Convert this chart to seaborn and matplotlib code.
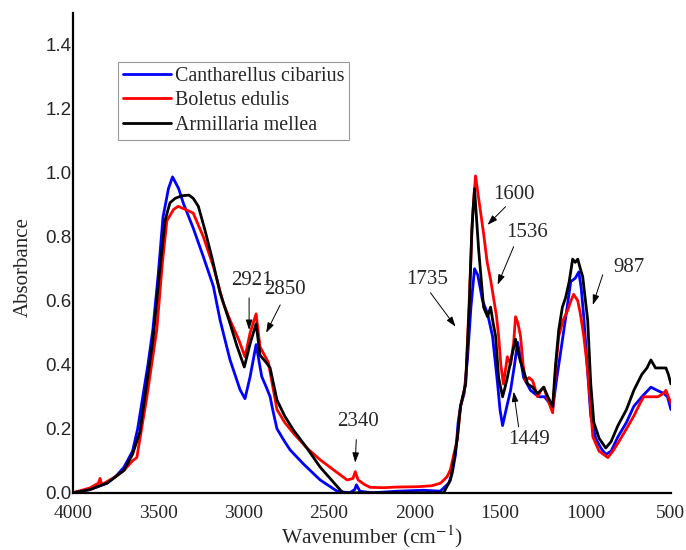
import numpy as np
import pandas as pd
import seaborn as sns
import matplotlib.pyplot as plt

# spectra (wavenumber, absorbance)
blue_w = [4000, 3900, 3850, 3800, 3750, 3700, 3650, 3620, 3590, 3560, 3531, 3500, 3472, 3440, 3416,
          3380, 3353, 3295, 3236, 3177, 3138, 3080, 3021, 2992, 2962, 2927, 2894, 2865, 2845,
          2830, 2805, 2760, 2728, 2650, 2552, 2453, 2380, 2350, 2340, 2320, 2250, 2100, 1950, 1850,
          1800, 1780, 1760, 1745, 1731, 1710, 1690, 1670, 1649, 1630, 1602, 1573, 1544, 1514, 1500,
          1485, 1460, 1438, 1415, 1397, 1380, 1362, 1321, 1274, 1240, 1210, 1192, 1170, 1145, 1115,
          1086, 1060, 1039, 1025, 1010, 990, 969, 940, 910, 881, 850, 810, 760, 717, 670, 617, 580,
          541, 520, 500]
blue_a = [0.0, 0.01, 0.02, 0.03, 0.05, 0.08, 0.13, 0.2, 0.30, 0.40, 0.51, 0.68, 0.86, 0.95, 0.987,
          0.95, 0.905, 0.827, 0.738, 0.645, 0.54, 0.416, 0.322, 0.294, 0.363, 0.463, 0.363, 0.327, 0.30,
          0.26, 0.20, 0.16, 0.134, 0.09, 0.04, 0.005, 0.0, 0.01, 0.025, 0.005, 0.0, 0.005, 0.008, 0.005,
          0.03, 0.06, 0.12, 0.22, 0.27, 0.31, 0.42, 0.58, 0.70, 0.68, 0.60, 0.56, 0.49, 0.34, 0.26,
          0.21, 0.27, 0.32, 0.40, 0.47, 0.42, 0.36, 0.32, 0.30, 0.30, 0.28, 0.26, 0.35, 0.44, 0.55,
          0.66, 0.67, 0.69, 0.64, 0.55, 0.40, 0.24, 0.17, 0.14, 0.12, 0.13, 0.175, 0.22, 0.27, 0.30,
          0.33, 0.32, 0.31, 0.30, 0.26]

red_w = [4000, 3900, 3850, 3840, 3830, 3800, 3750, 3700, 3650, 3625, 3600, 3566, 3508, 3475, 3449,
         3410, 3383, 3340, 3295, 3236, 3177, 3119, 3080, 3030, 2992, 2962, 2927, 2904, 2855,
         2805, 2760, 2710, 2630, 2552, 2470, 2394, 2360, 2347, 2330, 2317, 2290, 2259, 2182, 2100,
         1983, 1900, 1848, 1810, 1790, 1770, 1750, 1731, 1701, 1680, 1660, 1643, 1625, 1596, 1575,
         1555, 1538, 1520, 1508, 1495, 1480, 1457, 1438, 1420, 1409, 1395, 1380, 1365, 1350, 1330,
         1309, 1280, 1260, 1244, 1220, 1192, 1175, 1156, 1130, 1104, 1085, 1069, 1045, 1030, 1010,
         995, 980, 957, 920, 869, 840, 810, 760, 717, 680, 659, 620, 576, 545, 529, 500]
red_a = [0.0, 0.015, 0.03, 0.045, 0.025, 0.035, 0.05, 0.07, 0.10, 0.11, 0.19, 0.30, 0.51, 0.72, 0.85,
         0.885, 0.895, 0.885, 0.874, 0.80, 0.707, 0.593, 0.54, 0.48, 0.425, 0.50, 0.559, 0.456, 0.407,
         0.26, 0.22, 0.187, 0.14, 0.103, 0.07, 0.04, 0.045, 0.066, 0.04, 0.035, 0.025, 0.017, 0.016, 0.018,
         0.019, 0.022, 0.03, 0.05, 0.072, 0.12, 0.166, 0.27, 0.34, 0.60, 0.87, 0.99, 0.92, 0.81, 0.72,
         0.666, 0.61, 0.55, 0.49, 0.40, 0.34, 0.425, 0.40, 0.47, 0.55, 0.53, 0.49, 0.40, 0.35, 0.36,
         0.35, 0.30, 0.32, 0.33, 0.29, 0.25, 0.38, 0.49, 0.54, 0.57, 0.60, 0.62, 0.60, 0.56, 0.49,
         0.42, 0.34, 0.175, 0.13, 0.11, 0.13, 0.155, 0.20, 0.24, 0.28, 0.30, 0.30, 0.30, 0.31, 0.32, 0.28]

black_w = [4000, 3900, 3800, 3750, 3700, 3650, 3607, 3570, 3530, 3490, 3460, 3431, 3400, 3361, 3320,
           3295, 3265, 3226, 3187, 3138, 3080, 3040, 2996, 2960, 2943, 2927, 2904, 2865, 2845, 2805,
           2760, 2710, 2630, 2552, 2453, 2420, 2300, 2100, 1900, 1830, 1800, 1790, 1770, 1750, 1731,
           1701, 1680, 1665, 1649, 1625, 1596, 1573, 1555, 1540, 1526, 1508, 1485, 1470, 1457, 1430,
           1409, 1395, 1380, 1338, 1310, 1280, 1244, 1220, 1192, 1175, 1156, 1135, 1116, 1095, 1075,
           1060, 1045, 1030, 1016, 1000, 987, 969, 951, 920, 881, 850, 810, 760, 717, 670, 640, 617,
           590, 559, 529, 515, 500]
black_a = [0.0, 0.01, 0.03, 0.05, 0.07, 0.12, 0.19, 0.33, 0.48, 0.70, 0.85, 0.906, 0.92, 0.928, 0.93,
           0.92, 0.895, 0.82, 0.738, 0.625, 0.53, 0.46, 0.393, 0.47, 0.50, 0.528, 0.43, 0.405, 0.39, 0.29,
           0.24, 0.197, 0.14, 0.08, 0.02, 0.0, 0.0, 0.0, 0.0, 0.0, 0.03, 0.04, 0.10, 0.17, 0.27,
           0.34, 0.58, 0.82, 0.95, 0.76, 0.58, 0.55, 0.58, 0.53, 0.49, 0.36, 0.30, 0.33, 0.36, 0.43,
           0.48, 0.44, 0.41, 0.34, 0.33, 0.31, 0.33, 0.30, 0.27, 0.40, 0.51, 0.58, 0.61, 0.66, 0.73,
           0.72, 0.73, 0.70, 0.675, 0.60, 0.54, 0.34, 0.22, 0.17, 0.14, 0.16, 0.21, 0.26, 0.32, 0.37,
           0.39, 0.415, 0.39, 0.39, 0.39, 0.37, 0.34]

species = ['Cantharellus cibarius', 'Boletus edulis', 'Armillaria mellea']
colors = ['#0000ff', '#ff0000', '#000000']
x_ticks = [4000, 3500, 3000, 2500, 2000, 1500, 1000, 500]
y_ticks = [0.0, 0.2, 0.4, 0.6, 0.8, 1.0, 1.2, 1.4]

# peak labels: text, text pos, arrow tail, arrow head (data coords)
peaks = [
    ('2921', (2951, 0.662), (2968, 0.609), (2968, 0.509)),
    ('2850', (2757, 0.634), (2786, 0.587), (2868, 0.50)),
    ('2340', (2329, 0.222), (2341, 0.166), (2347, 0.094)),
    ('1735', (1925, 0.666), (1907, 0.625), (1760, 0.519)),
    ('1600', (1420, 0.931), (1467, 0.894), (1573, 0.837)),
    ('1536', (1344, 0.812), (1420, 0.769), (1514, 0.65)),
    ('1449', (1332, 0.166), (1391, 0.206), (1420, 0.316)),
    ('987', (746, 0.703), (899, 0.681), (957, 0.587)),
]

frames = []
for name, w, a in zip(species, [blue_w, red_w, black_w], [blue_a, red_a, black_a]):
    frames.append(pd.DataFrame({'w': w, 'a': a, 'sp': name}))
df = pd.concat(frames, ignore_index=True)

sns.set_style('white')
plt.rcParams['font.family'] = ['Liberation Serif', 'DejaVu Serif']
plt.rcParams['mathtext.fontset'] = 'stix'

fig = plt.figure(figsize=(6.86, 5.5), dpi=100)
ax = fig.add_axes([0.106, 0.104, 0.872, 0.873])

sns.lineplot(data=df, x='w', y='a', hue='sp', hue_order=species, palette=colors,
             sort=False, estimator=None, linewidth=2, ax=ax)

ax.set_xlim(4000, 500)
ax.set_ylim(0, 1.5)
ax.set_xticks(x_ticks)
ax.set_yticks(y_ticks)
ax.set_yticklabels([f'{v:.1f}' for v in y_ticks], family='Liberation Sans', fontsize=13.5)
ax.set_xticklabels([str(v) for v in x_ticks], fontsize=14)
ax.tick_params(axis='x', length=0, pad=9)
ax.tick_params(axis='y', length=0, pad=1)
ax.set_xlabel('Wavenumber (cm$^{-1}$)', fontsize=15.5, labelpad=1)
ax.set_ylabel('Absorbance', fontsize=15)
ax.yaxis.set_label_coords(-0.066, 0.47)
sns.despine(ax=ax)
for s in ['left', 'bottom']:
    ax.spines[s].set_color('black')
    ax.spines[s].set_linewidth(1.6)

for txt, tpos, tail, head in peaks:
    ax.text(tpos[0], tpos[1], txt, ha='center', va='center', fontsize=15)
    ax.annotate('', xy=head, xytext=tail,
                arrowprops=dict(arrowstyle='-|>,head_length=0.6,head_width=0.2',
                                color='black', lw=0.7, shrinkA=0, shrinkB=0))

leg = ax.legend(loc='upper left', bbox_to_anchor=(0.075, 0.898), borderaxespad=0,
                fontsize=14.4, frameon=True, fancybox=False, handlelength=2.4,
                handletextpad=0.2, borderpad=0.25, labelspacing=0.28)
leg.get_frame().set_edgecolor('#808080')
leg.get_frame().set_linewidth(0.8)
for line in leg.get_lines():
    line.set_linewidth(2)

fig.savefig('out.png', dpi=100)
